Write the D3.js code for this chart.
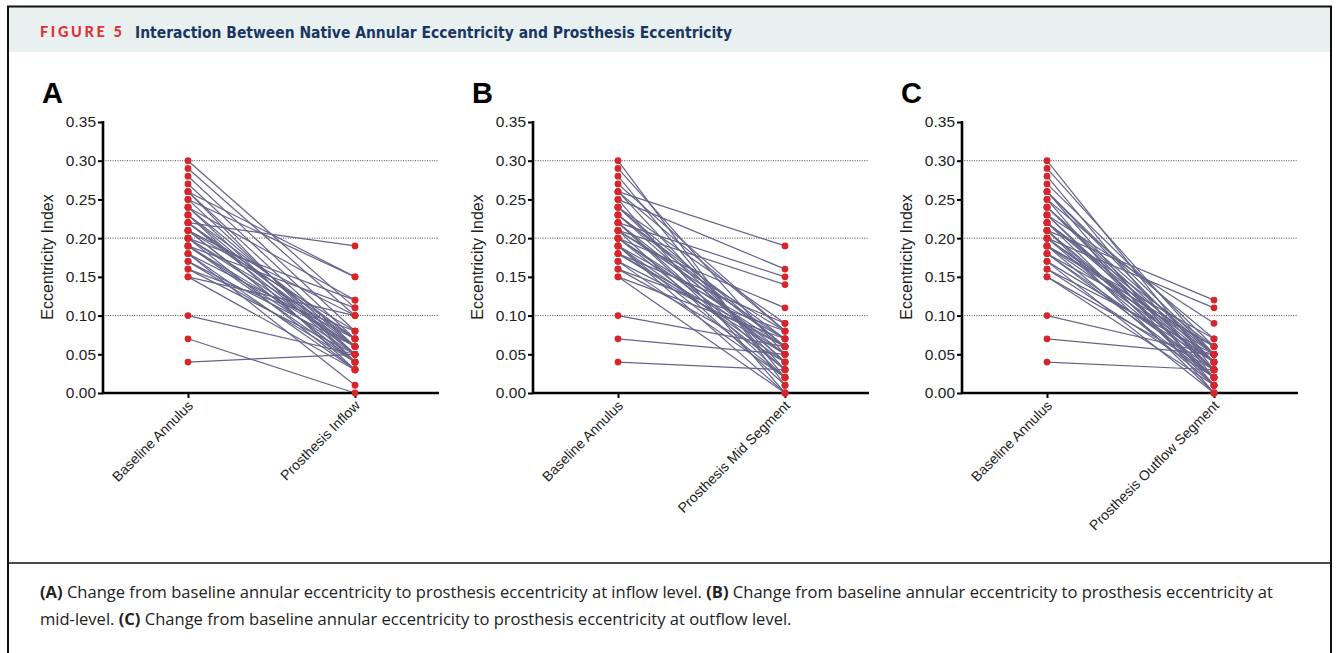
<!DOCTYPE html>
<html>
<head>
<meta charset="utf-8">
<script src="https://cdn.jsdelivr.net/npm/d3@7"></script>
<style>
  body { margin: 0; background: #fff; }
  svg { display: block; }
</style>
</head>
<body>
<svg width="1336" height="653"></svg>
<script>
// baseline annulus eccentricity per patient
var baseline = [0.30,0.29,0.28,0.27,0.26,0.26,0.25,0.25,0.24,0.24,0.23,0.23,0.22,0.22,0.22,
  0.21,0.21,0.21,0.20,0.20,0.20,0.19,0.19,0.19,0.18,0.18,0.17,0.17,0.16,0.16,0.15,0.15,0.10,0.07,0.04,
  0.24,0.23,0.22,0.21,0.20,0.19,0.18,0.26];
// prosthesis eccentricity, same patient order
var inflow = [0.11,0.10,0.08,0.07,0.06,0.15,0.15,0.05,0.12,0.04,0.07,0.03,0.19,0.06,0.05,
  0.10,0.04,0.08,0.12,0.06,0.03,0.11,0.05,0.04,0.07,0.01,0.06,0.04,0.08,0.05,0.10,0.03,0.05,0.00,0.05,
  0.06,0.05,0.07,0.04,0.07,0.06,0.03,0.04];
var midSegment = [0.01,0.05,0.02,0.08,0.19,0.03,0.16,0.00,0.06,0.09,0.04,0.07,0.15,0.02,0.05,
  0.14,0.08,0.01,0.11,0.06,0.03,0.07,0.04,0.00,0.09,0.05,0.06,0.02,0.08,0.04,0.07,0.00,0.06,0.05,0.03,
  0.04,0.06,0.03,0.07,0.05,0.02,0.06,0.08];
var outflow = [0.03,0.05,0.02,0.06,0.04,0.01,0.07,0.00,0.03,0.05,0.02,0.09,0.04,0.06,0.01,
  0.12,0.03,0.00,0.11,0.05,0.02,0.04,0.07,0.01,0.06,0.03,0.04,0.00,0.05,0.02,0.03,0.01,0.05,0.05,0.03,
  0.04,0.03,0.05,0.02,0.04,0.06,0.02,0.05];

var panelLetters = ["A", "B", "C"];
var categories = [
  ["Baseline Annulus", "Prosthesis Inflow"],
  ["Baseline Annulus", "Prosthesis Mid Segment"],
  ["Baseline Annulus", "Prosthesis Outflow Segment"]
];
var followUps = [inflow, midSegment, outflow];
var yTicks = [0, 0.05, 0.10, 0.15, 0.20, 0.25, 0.30, 0.35];
var gridValues = [0.10, 0.20, 0.30];

var svg = d3.select("svg");

// frame + header band
svg.append("rect").attr("x", 8).attr("y", 7).attr("width", 1323).attr("height", 45).attr("fill", "#e8f1f0");
svg.append("path")
  .attr("d", "M8,653 V6.5 H1331 V653")
  .attr("fill", "none").attr("stroke", "#111").attr("stroke-width", 2);
svg.append("line").attr("x1", 8).attr("x2", 1331).attr("y1", 563).attr("y2", 563)
  .attr("stroke", "#111").attr("stroke-width", 1.3);

svg.append("text").attr("x", 40).attr("y", 37)
  .text("FIGURE 5")
  .attr("fill", "#e2303a").attr("font-family", "Lato, 'DejaVu Sans', sans-serif")
  .attr("font-weight", 900).attr("font-size", 14.5)
  .attr("textLength", 82).attr("lengthAdjust", "spacing");
svg.append("text").attr("x", 135).attr("y", 37.5)
  .text("Interaction Between Native Annular Eccentricity and Prosthesis Eccentricity")
  .attr("fill", "#1b3563").attr("font-family", "'Liberation Sans Narrow', 'DejaVu Sans Condensed', sans-serif")
  .attr("font-weight", "bold").attr("font-size", 16.5)
  .attr("textLength", 597).attr("lengthAdjust", "spacingAndGlyphs");

// caption
var cap = svg.append("g").attr("font-family", "'Open Sans', 'Noto Sans', sans-serif").attr("font-size", 16.55).attr("fill", "#222");
var l1 = cap.append("text").attr("x", 40).attr("y", 598);
l1.append("tspan").attr("font-weight", "bold").text("(A)");
l1.append("tspan").text(" Change from baseline annular eccentricity to prosthesis eccentricity at inflow level. ");
l1.append("tspan").attr("font-weight", "bold").text("(B)");
l1.append("tspan").text(" Change from baseline annular eccentricity to prosthesis eccentricity at");
var l2 = cap.append("text").attr("x", 40).attr("y", 625);
l2.append("tspan").text("mid-level. ");
l2.append("tspan").attr("font-weight", "bold").text("(C)");
l2.append("tspan").text(" Change from baseline annular eccentricity to prosthesis eccentricity at outflow level.");

var axisX = [103, 533, 962];
var plotW = 336;
var y = d3.scaleLinear().domain([0, 0.35]).range([393, 122]);

panelLetters.forEach(function(letter, p) {
  var g = svg.append("g").attr("transform", "translate(" + axisX[p] + ",0)");
  var x = d3.scalePoint().domain(categories[p]).range([85, 252]);

  svg.append("text")
    .attr("x", axisX[p] - 61).attr("y", 103)
    .attr("font-family", "'Liberation Sans', Arial, sans-serif")
    .attr("font-weight", "bold").attr("font-size", 29).attr("fill", "#000")
    .text(letter);

  // dotted grid lines
  g.selectAll(".grid").data(gridValues).enter().append("line")
    .attr("x1", 0).attr("x2", plotW)
    .attr("y1", function(d) { return y(d); }).attr("y2", function(d) { return y(d); })
    .attr("stroke", "#444").attr("stroke-width", 1).attr("stroke-dasharray", "1,1.4");

  // connecting lines
  var pairs = baseline.map(function(b, i) { return [b, followUps[p][i]]; });
  g.selectAll(".pair").data(pairs).enter().append("line")
    .attr("x1", x(categories[p][0])).attr("x2", x(categories[p][1]))
    .attr("y1", function(d) { return y(d[0]); })
    .attr("y2", function(d) { return y(d[1]); })
    .attr("stroke", "#67648a").attr("stroke-width", 1.2);

  // axes
  var yAxis = g.append("g")
    .call(d3.axisLeft(y).tickValues(yTicks).tickSize(5).tickPadding(2).tickFormat(d3.format(".2f")));
  yAxis.select(".domain").attr("stroke-width", 2.6).attr("d", "M0,393V121");
  yAxis.selectAll(".tick line").attr("stroke-width", 2);
  yAxis.selectAll("text").attr("font-family", "'Liberation Sans', Arial, sans-serif").attr("font-size", 15.5).attr("fill", "#222");

  var xAxis = g.append("g").attr("transform", "translate(0,393)")
    .call(d3.axisBottom(x).tickSize(5).tickPadding(4));
  xAxis.select(".domain").attr("stroke-width", 2.6).attr("d", "M-1,0H" + plotW);
  xAxis.selectAll(".tick line").attr("stroke-width", 2);
  xAxis.selectAll("text")
    .attr("font-family", "'Liberation Sans', Arial, sans-serif").attr("font-size", 14).attr("fill", "#222")
    .attr("text-anchor", "end").attr("dy", "0.35em")
    .attr("transform", "translate(2,10) rotate(-45)")
    .attr("y", 0).attr("x", 0);

  // points
  var pts = [];
  baseline.forEach(function(b) { pts.push([categories[p][0], b]); });
  followUps[p].forEach(function(v) { pts.push([categories[p][1], v]); });
  g.selectAll(".pt").data(pts).enter().append("circle")
    .attr("cx", function(d) { return x(d[0]); })
    .attr("cy", function(d) { return y(d[1]); })
    .attr("r", 3.4).attr("fill", "#d7262b");

  // y title
  svg.append("text")
    .attr("transform", "translate(" + (axisX[p] - 50) + ",257) rotate(-90)")
    .attr("text-anchor", "middle")
    .attr("font-family", "'Liberation Sans', Arial, sans-serif").attr("font-size", 16).attr("fill", "#222")
    .text("Eccentricity Index");
});
</script>
</body>
</html>
